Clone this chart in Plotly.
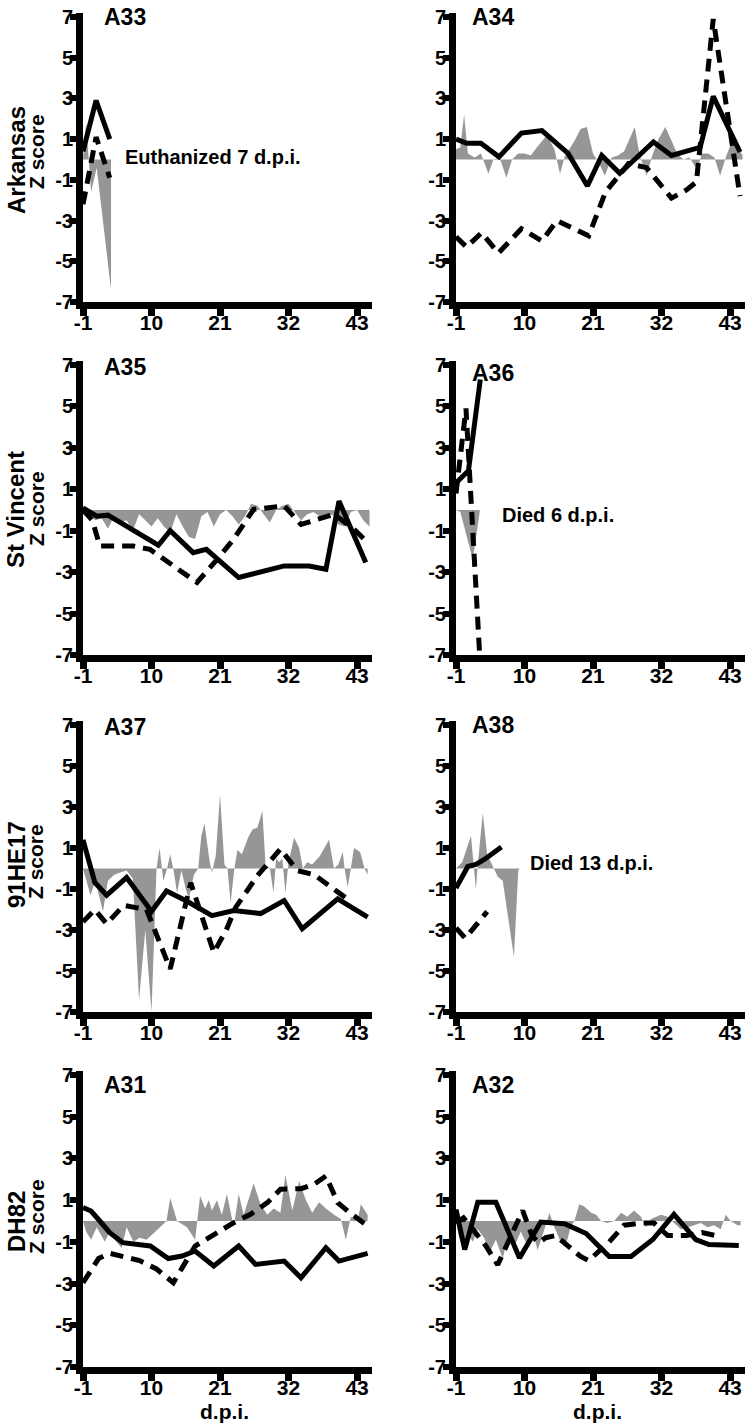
import plotly.graph_objects as go

W, H = 750, 1426
FONT = "Liberation Sans, Arial, Helvetica, sans-serif"

# ---------------- tick labels / categories ----------------
x_tick_vals = [-1, 10, 21, 32, 43]
x_tick_text = ["-1", "10", "21", "32", "43"]
y_tick_vals = [-7, -5, -3, -1, 1, 3, 5, 7]
y_tick_text = ["-7", "-5", "-3", "-1", "1", "3", "5", "7"]

strain_names = ["Arkansas", "St Vincent", "91HE17", "DH82"]
panel_names = ["A33", "A34", "A35", "A36", "A37", "A38", "A31", "A32"]
note_texts = {"A33": "Euthanized 7 d.p.i.", "A36": "Died 6 d.p.i.", "A38": "Died 13 d.p.i."}
note_pos = {"A33": (5.4, 0.1), "A36": (6.1, -0.25), "A38": (10.6, 0.25)}

daily = list(range(-1, 46))

# ---------------- A33 ----------------
a33_gray_x = [-1, -0.5, 0.3, 1.2, 3.5]
a33_gray_y = [0.0, 1.8, -1.6, -0.4, -6.4]
a33_solid_x = [-1, 1.1, 3.3]
a33_solid_y = [0.4, 2.9, 1.0]
a33_dash_x = [-1, 1.1, 3.3]
a33_dash_y = [-2.2, 1.1, -0.9]

# ---------------- A34 ----------------
a34_gray_x = [-1, -0.3, 0.3, 0.9, 2, 3, 4.2, 5, 6, 7.1, 8, 9, 10, 11, 12, 13.6, 14.8, 15.7,
              16.5, 18, 19, 20, 21, 22, 22.9, 24, 25, 26, 27.7, 28.5, 29.6, 30.5, 31.5, 32.6,
              33.5, 34.5, 35.5, 36.5, 37.7, 38.5, 39.5, 40.5, 41.4, 42.3, 43.3, 44.3, 45]
a34_gray_y = [0.5, 0.6, 2.2, 0.3, 0.1, 0.3, -0.7, 0.0, 0.1, -0.9, 0.0, 0.3, 0.3, 0.2, 0.6, 1.2,
              0.5, -0.7, 0.2, 0.9, 1.5, 1.6, 0.3, -0.2, -0.8, 0.1, 0.2, 0.4, 1.6, 0.2, -0.8, 0.2,
              1.0, 1.6, 1.0, 0.3, 0.0, 0.1, -0.5, 0.3, 0.3, 0.1, -0.8, 0.1, 0.9, 0.6, 0.2]
a34_solid_x = [-1, 0.7, 3.0, 5.9, 9.5, 12.8, 17.0, 20.1, 22.4, 25.3, 30.7, 33.6, 38.2, 40.3, 44.6]
a34_solid_y = [1.0, 0.8, 0.8, 0.13, 1.3, 1.42, 0.3, -1.3, 0.2, -0.68, 0.86, 0.2, 0.6, 3.1, 0.37]
a34_dash_x = [-1, 0.7, 3.1, 5.8, 9.5, 12.8, 15.2, 20.3, 23.0, 26.7, 29.6, 33.6, 36.0, 37.6, 40.3, 44.6]
a34_dash_y = [-3.8, -4.3, -3.6, -4.6, -3.4, -4.0, -3.0, -3.75, -1.6, -0.2, -0.4, -1.9, -1.5, -1.1, 6.9, -1.8]

# ---------------- A35 ----------------
a35_gray_x = daily
a35_gray_y = [0.2, -0.3, -0.5, -0.4, -0.9, -0.3, -0.6, -0.5, -1.0, -0.2, -0.5, -0.8, -0.4, -0.8,
              -1.1, -0.2, -0.8, -1.3, -1.4, -0.3, -0.1, -0.8, -0.2, 0.0, -0.3, -0.7, -0.3, 0.3,
              0.2, -0.2, -0.6, 0.0, 0.2, 0.3, -0.1, -0.5, -0.2, -0.1, -0.3, -0.4, -0.2, -0.7,
              -0.8, -0.1, 0.0, -0.5, -0.8]
a35_solid_x = [-1, 1.2, 3.0, 11.1, 13.0, 16.7, 18.8, 24.0, 31.3, 35.3, 38.0, 40.1, 44.4]
a35_solid_y = [0.1, -0.3, -0.25, -1.7, -1.0, -2.06, -1.9, -3.26, -2.7, -2.7, -2.86, 0.43, -2.54]
a35_dash_x = [-1, 0.5, 1.7, 7.1, 9.75, 17.3, 20.5, 23.2, 26.4, 28.6, 31.3, 34.0, 37.2, 39.3, 42.5, 44.7]
a35_dash_y = [0.0, -0.5, -1.74, -1.74, -1.9, -3.5, -2.4, -1.4, 0.03, 0.1, 0.2, -0.7, -0.37, -0.2, -0.93, -1.57]

# ---------------- A36 ----------------
a36_gray_x = [-1, -0.3, 1.7, 2.8]
a36_gray_y = [0.0, -0.1, -2.4, -0.1]
a36_solid_x = [-1, 1.0, 2.9]
a36_solid_y = [1.3, 1.9, 6.3]
a36_dash_x = [-1, 0.6, 2.8]
a36_dash_y = [0.8, 4.9, -7.0]

# ---------------- A37 ----------------
a37_gray_x = [-1, -0.5, 0.2, 1, 2.2, 3, 4, 5, 6, 7, 8, 9, 10, 10.8, 11.3, 11.9, 12.5, 13, 13.6,
              14.1, 14.8, 15.5, 16, 16.8, 17.5, 18, 18.5, 19.3, 19.7, 20.3, 21, 21.7, 22.2, 22.7,
              23.3, 23.8, 24.5, 25.5, 26.2, 27, 27.8, 28.3, 29, 29.6, 30, 30.5, 31, 31.5, 32, 32.9,
              33.7, 34.3, 35, 35.8, 37, 38.5, 39.3, 40, 40.7, 41, 41.5, 42, 42.5, 43.5, 44.2, 44.7]
a37_gray_y = [0.0, -0.6, -1.3, -0.6, -2.1, -0.6, -0.3, -0.2, -0.1, -0.5, -6.4, -3.0, -7.0, 0.0,
              1.0, -0.6, 0.0, 0.7, -0.2, -1.2, -0.1, -1.0, -1.5, -0.3, 0.0, 1.6, 2.2, 0.4, -0.2,
              0.6, 3.6, 0.2, 0.0, -1.7, 0.0, 0.9, 0.7, 1.5, 1.9, 2.0, 2.8, 0.2, 0.0, -1.2, 0.5,
              0.3, 0.5, -1.2, 0.3, 1.5, 1.0, 0.0, 0.3, 0.2, 0.6, 1.4, 0.0, 0.2, 0.8, 0.0, -0.9,
              0.0, 1.0, 0.8, 0.0, -0.3]
a37_solid_x = [-1, 0.9, 2.8, 6.0, 10.0, 12.4, 15.7, 19.7, 23.2, 27.5, 31.3, 34.2, 39.9, 44.7]
a37_solid_y = [1.4, -0.68, -1.3, -0.44, -2.1, -1.1, -1.6, -2.3, -2.05, -2.2, -1.56, -2.94, -1.48, -2.37]
a37_dash_x = [-1, 0.9, 2.8, 5.5, 9.2, 13.0, 16.3, 20.0, 22.0, 23.5, 27.0, 30.7, 33.4, 36.1, 41.5]
a37_dash_y = [-2.6, -2.0, -2.7, -1.8, -2.0, -4.9, -0.7, -4.1, -3.0, -1.9, -0.35, 0.95, -0.1, -0.3, -1.5]

# ---------------- A38 ----------------
a38_gray_x = [-1, 0, 1.4, 1.9, 2.2, 2.5, 3.3, 4.0, 4.9, 5.2, 5.7, 6.5, 8.3, 9.0, 9.2]
a38_gray_y = [0.0, 0.3, 1.6, 0.1, -1.0, 0.2, 2.7, 0.7, 0.1, -0.1, -0.4, -0.6, -4.3, -0.1, 0.0]
a38_solid_x = [-1, 0.9, 2.2, 3.6, 6.3]
a38_solid_y = [-0.95, 0.1, 0.2, 0.45, 1.05]
a38_dash_x = [-1, 0.5, 4.0]
a38_dash_y = [-2.9, -3.4, -2.1]

# ---------------- A31 ----------------
a31_gray_x = [-1, -0.5, 0.3, 1.2, 2.5, 3.3, 4.1, 5.2, 6.0, 7.1, 8.1, 9.2, 10.3, 11.4, 12.4, 13.0,
              14.1, 15.7, 17.0, 17.8, 18.6, 19.2, 19.7, 20.5, 21.3, 22.1, 23.2, 24.0, 24.8, 26.4,
              27.5, 28.6, 29.6, 30.7, 31.5, 32.6, 33.7, 34.8, 35.8, 36.9, 38.0, 39.3, 40.4, 41.2,
              42.0, 43.1, 43.6, 44.7]
a31_gray_y = [0.0, -0.5, -0.9, -0.3, -1.0, -0.5, -0.9, -1.3, -0.3, -1.0, -0.8, -0.9, -0.6, -0.3,
              0.0, 1.1, 0.0, -0.3, -0.9, 1.2, 0.6, 1.0, 0.5, 1.0, 0.3, 1.3, -0.3, 1.3, 0.3, 1.8,
              0.8, 0.3, 0.6, 0.4, 2.2, 0.5, 1.9, 1.0, 0.4, 0.9, 0.6, 0.3, 0.1, -0.9, 0.2, 0.0,
              0.8, 0.3]
a31_solid_x = [-1, 0.3, 1.7, 3.3, 5.4, 7.6, 9.8, 12.7, 14.9, 17.0, 20.0, 24.0, 26.7, 31.3, 34.0,
               38.0, 40.1, 44.7]
a31_solid_y = [0.64, 0.48, 0.0, -0.56, -1.04, -1.12, -1.2, -1.8, -1.68, -1.44, -2.16, -1.2, -2.08,
               -1.92, -2.72, -1.28, -1.92, -1.55]
a31_dash_x = [-1, 1.5, 3.3, 8.1, 10.8, 13.5, 17.0, 20.5, 23.2, 25.9, 28.6, 30.7, 34.0, 36.1, 38.0,
              39.9, 41.5, 44.7]
a31_dash_y = [-2.96, -1.8, -1.55, -1.9, -2.3, -2.96, -1.2, -0.56, -0.08, 0.32, 0.88, 1.52, 1.55,
              1.76, 2.16, 0.88, 0.48, -0.24]

# ---------------- A32 ----------------
a32_gray_x = [-1, -0.5, 0.1, 0.9, 1.7, 2.5, 3.5, 4.4, 5.4, 6.5, 7.3, 8.4, 9.4, 10.5, 11.6, 12.1,
              13.2, 14.0, 14.8, 15.8, 16.6, 17.4, 18.0, 18.8, 19.6, 20.7, 21.5, 22.3, 23.3, 24.4,
              25.5, 26.5, 27.6, 28.7, 29.5, 30.3, 31.9, 33.0, 34.0, 35.1, 36.2, 37.2, 38.3, 39.4,
              40.4, 41.5, 42.3, 43.1, 44.2, 44.7]
a32_gray_y = [0.0, -0.8, -1.2, -0.6, -1.0, -0.4, -0.8, -1.5, -0.9, -1.8, -0.8, -1.2, -0.5, -1.2,
              -0.8, -1.4, -0.4, 0.4, -0.3, -1.0, -1.2, -0.3, 0.0, 0.8, 0.7, 0.4, 0.3, 0.0, -0.1,
              0.0, 0.4, 0.2, 0.5, 0.2, -0.3, 0.1, 0.3, 0.2, -0.1, -0.4, -0.3, -0.2, -0.1, -0.3,
              -0.2, -0.4, 0.3, 0.0, -0.2, -0.2]
a32_solid_x = [-1, 0.4, 2.5, 5.4, 9.2, 12.6, 16.4, 19.9, 23.6, 27.1, 30.6, 34.0, 37.5, 39.6, 44.4]
a32_solid_y = [0.55, -1.37, 0.9, 0.9, -1.77, -0.05, -0.13, -0.6, -1.7, -1.7, -0.89, 0.32, -0.89,
               -1.13, -1.18]
a32_dash_x = [-1, 0.2, 1.7, 3.8, 5.7, 9.7, 11.2, 12.3, 13.4, 15.0, 19.0, 20.3, 23.6, 26.0, 28.6,
              30.8, 33.0, 36.0, 38.5, 41.5]
a32_dash_y = [-0.1, 0.15, -0.4, -1.2, -2.1, 0.5, -0.7, -1.05, -0.8, -0.7, -1.7, -1.9, -1.0, -0.2,
              -0.1, -0.1, -0.7, -0.7, -0.55, -0.75]

panel_data = {
    "A33": (a33_gray_x, a33_gray_y, a33_solid_x, a33_solid_y, a33_dash_x, a33_dash_y),
    "A34": (a34_gray_x, a34_gray_y, a34_solid_x, a34_solid_y, a34_dash_x, a34_dash_y),
    "A35": (a35_gray_x, a35_gray_y, a35_solid_x, a35_solid_y, a35_dash_x, a35_dash_y),
    "A36": (a36_gray_x, a36_gray_y, a36_solid_x, a36_solid_y, a36_dash_x, a36_dash_y),
    "A37": (a37_gray_x, a37_gray_y, a37_solid_x, a37_solid_y, a37_dash_x, a37_dash_y),
    "A38": (a38_gray_x, a38_gray_y, a38_solid_x, a38_solid_y, a38_dash_x, a38_dash_y),
    "A31": (a31_gray_x, a31_gray_y, a31_solid_x, a31_solid_y, a31_dash_x, a31_dash_y),
    "A32": (a32_gray_x, a32_gray_y, a32_solid_x, a32_solid_y, a32_dash_x, a32_dash_y),
}

# ---------------- layout geometry (pixels) ----------------
col_px = [(83, 372), (456, 745)]
row_px = [(17, 302), (365, 655), (725, 1012), (1075, 1367)]
X_RANGE = [-1, 45.4]
Y_TOP = 7.2


def fx(px):
    return px / W


def fy(py):
    return 1 - py / H


GRAY = "rgb(150,150,150)"
LW = 5

fig = go.Figure()
layout = dict(
    width=W, height=H, template="none",
    paper_bgcolor="white", plot_bgcolor="white",
    margin=dict(l=0, r=0, t=0, b=0), showlegend=False,
    annotations=[],
)

title_y = {"A33": 7.0, "A34": 7.0, "A35": 6.9, "A36": 6.6, "A37": 6.9, "A38": 7.0, "A31": 6.5, "A32": 6.5}

for i, name in enumerate(panel_names):
    r, c = i // 2, i % 2
    sfx = "" if i == 0 else str(i + 1)
    xa, ya = "x" + sfx, "y" + sfx
    gx, gy, sx, sy, dx, dy = panel_data[name]
    fig.add_trace(go.Scatter(x=gx, y=gy, mode="lines", fill="tozeroy", fillcolor=GRAY,
                             line=dict(width=0, color=GRAY), xaxis=xa, yaxis=ya, hoverinfo="skip"))
    fig.add_trace(go.Scatter(x=dx, y=dy, mode="lines",
                             line=dict(width=LW, color="black", dash="13px,8px"),
                             xaxis=xa, yaxis=ya))
    fig.add_trace(go.Scatter(x=sx, y=sy, mode="lines", line=dict(width=LW, color="black"),
                             xaxis=xa, yaxis=ya))

    y7, ym7 = row_px[r]
    unit = (ym7 - y7) / 14.0
    top = y7 - (Y_TOP - 7) * unit
    x0, x1 = col_px[c]
    layout["xaxis" + sfx] = dict(
        domain=[fx(x0), fx(x1)], range=X_RANGE, anchor=ya,
        showline=True, linewidth=7, linecolor="black", mirror=False,
        ticks="outside", ticklen=7, tickwidth=7, tickcolor="black",
        tickvals=x_tick_vals, ticktext=x_tick_text, ticklabelstandoff=-11,
        ticklabeloverflow="allow",
        tickfont=dict(family=FONT, size=21, color="black", weight="bold"),
        showgrid=False, zeroline=False, automargin=False, fixedrange=True,
    )
    layout["yaxis" + sfx] = dict(
        domain=[fy(ym7), fy(top)], range=[-7, Y_TOP], anchor=xa,
        showline=True, linewidth=7, linecolor="black",
        ticks="outside", ticklen=6, tickwidth=6, tickcolor="black",
        tickvals=y_tick_vals, ticktext=y_tick_text, ticklabelstandoff=-7,
        ticklabeloverflow="allow",
        tickfont=dict(family=FONT, size=20, color="black", weight="bold"),
        showgrid=False, zeroline=False, automargin=False, fixedrange=True,
    )
    layout["annotations"].append(dict(
        text=name, x=2.1 if c == 0 else 1.3, y=title_y[name], xref=xa, yref=ya,
        xanchor="left", yanchor="middle", showarrow=False,
        font=dict(family=FONT, size=23, color="black", weight="bold")))
    if name in note_texts:
        nx, ny = note_pos[name]
        layout["annotations"].append(dict(
            text=note_texts[name], x=nx, y=ny, xref=xa, yref=ya,
            xanchor="left", yanchor="middle", showarrow=False,
            font=dict(family=FONT, size=20, color="black", weight="bold")))

# row labels
strain_center_y = [160, 510, 865, 1222]
zscore_center_y = [152, 509, 862, 1217]
for k, s in enumerate(strain_names):
    layout["annotations"].append(dict(
        text=s, x=fx(16), y=fy(strain_center_y[k]), xref="paper", yref="paper",
        xanchor="center", yanchor="middle", textangle=-90, showarrow=False,
        font=dict(family=FONT, size=24, color="black", weight="bold")))
    layout["annotations"].append(dict(
        text="Z score", x=fx(36), y=fy(zscore_center_y[k]), xref="paper", yref="paper",
        xanchor="center", yanchor="middle", textangle=-90, showarrow=False,
        font=dict(family=FONT, size=21, color="black", weight="bold")))

# x-axis titles on bottom row
for cx in (224, 597):
    layout["annotations"].append(dict(
        text="d.p.i.", x=fx(cx), y=fy(1411), xref="paper", yref="paper",
        xanchor="center", yanchor="middle", showarrow=False,
        font=dict(family=FONT, size=21, color="black", weight="bold")))

fig.update_layout(**layout)
# place the fixed-size figure flush with the page corner (no default body margin)
fig.write_html("out.html", config={"displayModeBar": False},
               post_script="document.body.style.margin='0px';")
